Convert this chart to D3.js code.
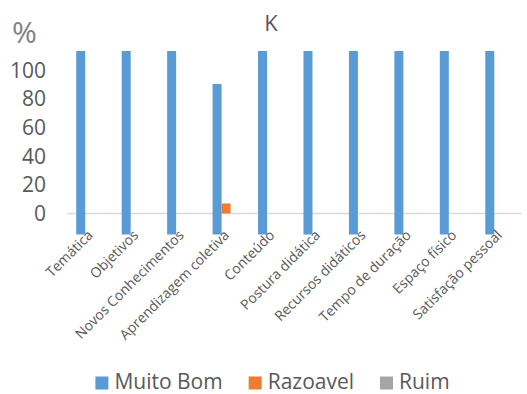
<!DOCTYPE html>
<html>
<head>
<meta charset="utf-8">
<script src="https://cdn.jsdelivr.net/npm/d3@7"></script>
<style>
  html, body { margin: 0; padding: 0; background: #fff; }
  svg { display: block; font-family: "Open Sans", Lato, sans-serif; }
</style>
</head>
<body>
<svg id="chart" width="527" height="394"></svg>
<script>
// Survey results per evaluated aspect (percent of answers)
const categories = [
  "Temática", "Objetivos", "Novos Conhecimentos", "Aprendizagem coletiva",
  "Conteúdo", "Postura didática", "Recursos didáticos", "Tempo de duração",
  "Espaço físico", "Satisfação pessoal"
];
const seriesNames = ["Muito Bom", "Razoavel", "Ruim"];
const muitoBom = [100, 100, 100, 82, 100, 100, 100, 100, 100, 100];
const razoavel = [0, 0, 0, 7, 0, 0, 0, 0, 0, 0];
const ruim = [0, 0, 0, 0, 0, 0, 0, 0, 0, 0];
const yTicks = [0, 20, 40, 60, 80, 100];
const colors = ["#5b9bd5", "#ed7d31", "#a5a5a5"];

const svg = d3.select("#chart");
const textColor = "#595959";
const font = "'Open Sans', Lato, sans-serif";

// Category positions
const x = d3.scaleBand().domain(categories).range([67, 521.5]);
const groupWidth = 27;
const xs = d3.scaleBand().domain(seriesNames).range([0, groupWidth]);
const groupOffset = (x.bandwidth() - groupWidth) / 2;

// Primary value axis (shown) and secondary axis used by "Muito Bom"
const y = d3.scaleLinear().domain([0, 100]).range([213.5, 70.5]);
const y2 = d3.scaleLinear().domain([0, 100]).range([234.5, 51]);

// Axis line at zero
svg.append("line")
  .attr("x1", x.range()[0]).attr("x2", x.range()[1])
  .attr("y1", y(0)).attr("y2", y(0))
  .attr("stroke", "#d9d9d9").attr("stroke-width", 1.3);

// Y tick labels
const yAxis = d3.axisLeft(y).tickValues(yTicks).tickSize(0).tickPadding(0);
const gy = svg.append("g").attr("transform", "translate(46,0)").call(yAxis);
gy.select(".domain").remove();
gy.selectAll("text")
  .attr("font-size", 21)
  .attr("fill", textColor)
  .attr("font-family", font);

// Bars
const series = [
  { name: seriesNames[0], values: muitoBom, scale: y2 },
  { name: seriesNames[1], values: razoavel, scale: y },
  { name: seriesNames[2], values: ruim, scale: y }
];
series.forEach((s, si) => {
  svg.append("g")
    .selectAll("rect")
    .data(s.values)
    .join("rect")
    .attr("x", (d, i) => x(categories[i]) + groupOffset + xs(s.name))
    .attr("width", xs.bandwidth())
    .attr("y", d => s.scale(d))
    .attr("height", d => s.scale(0) - s.scale(d))
    .attr("fill", colors[si]);
});

// Category labels, rotated
svg.append("g")
  .selectAll("text")
  .data(categories)
  .join("text")
  .attr("transform", d => `translate(${x(d) + x.bandwidth() / 2 - 3},${229}) rotate(-45)`)
  .attr("text-anchor", "end")
  .attr("dy", "0.71em")
  .attr("font-size", 14)
  .attr("fill", textColor)
  .text(d => d);

// Title and unit
svg.append("text")
  .attr("x", 271).attr("y", 31)
  .attr("text-anchor", "middle")
  .attr("font-size", 22)
  .attr("fill", textColor)
  .text("K");
svg.append("text")
  .attr("x", 12).attr("y", 43)
  .attr("font-size", 30)
  .attr("fill", "#7f7f7f")
  .text("%");

// Legend
const legend = svg.append("g");
const items = legend.selectAll("g")
  .data(seriesNames)
  .join("g");
items.append("rect")
  .attr("width", 13).attr("height", 13)
  .attr("y", 376.5)
  .attr("fill", (d, i) => colors[i]);
items.append("text")
  .attr("x", 19).attr("y", 388.5)
  .attr("font-size", 21)
  .attr("fill", textColor)
  .text(d => d);
const widths = [];
items.each(function () {
  widths.push(19 + d3.select(this).select("text").node().getComputedTextLength());
});
const gap = 26;
const total = d3.sum(widths) + gap * (widths.length - 1);
let start = 272.5 - total / 2;
items.attr("transform", (d, i) => {
  const tx = start;
  start += widths[i] + gap;
  return `translate(${tx},0)`;
});
</script>
</body>
</html>
